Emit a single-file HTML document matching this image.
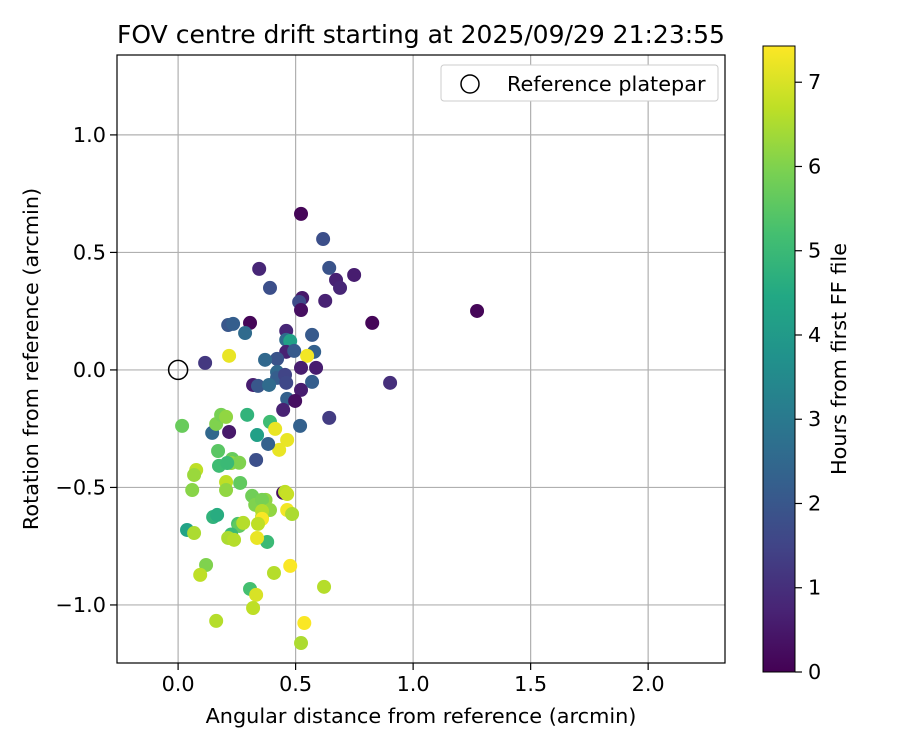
<!DOCTYPE html>
<html><head><meta charset="utf-8"><style>
body{margin:0;background:#fff}
svg{display:block;font-family:"DejaVu Sans","Liberation Sans",sans-serif}
</style></head><body>
<svg id="chart" width="900" height="750">
<defs><linearGradient id="vir" x1="0" y1="1" x2="0" y2="0"></linearGradient></defs>
<rect width="900" height="750" fill="#fff"/>
<g id="grid"></g>
<g id="pts"></g>
<rect x="117" y="55" width="608" height="608" fill="none" stroke="#000" stroke-width="1.2"/>
<g id="axes" font-size="20.8" fill="#000"></g>
<text x="421" y="43" text-anchor="middle" font-size="25">FOV centre drift starting at 2025/09/29 21:23:55</text>
<text x="421" y="723" text-anchor="middle" font-size="20.8">Angular distance from reference (arcmin)</text>
<text transform="translate(38,359) rotate(-90)" text-anchor="middle" font-size="20.8">Rotation from reference (arcmin)</text>
<g>
<rect x="441" y="65" width="277" height="36" rx="3" fill="#fff" stroke="#ccc"/>
<circle cx="470" cy="84" r="9" fill="none" stroke="#000" stroke-width="1.5"/>
<text x="507" y="91" font-size="20.8">Reference platepar</text>
</g>
<rect x="763" y="46" width="32" height="626" fill="url(#vir)" stroke="#000"/>
<g id="cbt" font-size="20.8"></g>
<text transform="translate(846,359) rotate(-90)" text-anchor="middle" font-size="20.8">Hours from first FF file</text>
</svg>
<script>
const xs=[0.523,0.617,0.345,0.643,0.672,0.749,0.689,0.391,0.528,0.515,0.626,0.523,0.826,1.272,0.306,0.213,0.234,0.285,0.46,0.57,0.46,0.477,0.46,0.494,0.579,0.217,0.549,0.421,0.37,0.115,0.523,0.587,0.902,0.319,0.34,0.421,0.421,0.455,0.46,0.387,0.523,0.57,0.464,0.498,0.447,0.643,0.519,0.217,0.145,0.017,0.162,0.183,0.204,0.294,0.336,0.391,0.413,0.464,0.43,0.383,0.332,0.17,0.23,0.174,0.226,0.26,0.209,0.077,0.068,0.06,0.204,0.204,0.264,0.315,0.328,0.372,0.447,0.455,0.464,0.357,0.391,0.357,0.357,0.357,0.464,0.485,0.149,0.166,0.038,0.068,0.255,0.26,0.226,0.213,0.277,0.379,0.336,0.34,0.238,0.119,0.094,0.408,0.477,0.306,0.332,0.319,0.162,0.537,0.523,0.621];
const ys=[0.664,0.557,0.43,0.434,0.383,0.404,0.349,0.349,0.306,0.289,0.294,0.255,0.2,0.251,0.2,0.191,0.196,0.157,0.166,0.149,0.128,0.123,0.077,0.081,0.077,0.06,0.06,0.047,0.043,0.03,0.009,0.009,-0.055,-0.064,-0.068,-0.009,-0.034,-0.021,-0.055,-0.064,-0.085,-0.051,-0.123,-0.132,-0.17,-0.204,-0.238,-0.264,-0.268,-0.238,-0.23,-0.191,-0.2,-0.191,-0.277,-0.221,-0.251,-0.298,-0.34,-0.315,-0.383,-0.345,-0.379,-0.408,-0.396,-0.395,-0.396,-0.426,-0.447,-0.511,-0.477,-0.511,-0.481,-0.536,-0.574,-0.553,-0.523,-0.519,-0.528,-0.553,-0.596,-0.626,-0.6,-0.634,-0.596,-0.613,-0.626,-0.617,-0.681,-0.694,-0.655,-0.664,-0.7,-0.715,-0.651,-0.732,-0.715,-0.655,-0.723,-0.83,-0.872,-0.864,-0.834,-0.932,-0.957,-1.013,-1.068,-1.077,-1.162,-0.923];
const hours=[0.1,1.8,0.8,1.9,0.7,0.6,0.8,1.8,0.5,1.7,0.7,0.3,0.1,0.1,0.1,2.0,2.2,2.6,0.8,2.1,2.6,4.2,0.7,2.1,2.3,7.2,7.3,1.9,2.5,1.2,0.6,0.6,1.0,0.6,2.0,2.5,2.2,1.5,1.6,2.6,0.6,2.2,2.3,0.3,0.7,1.3,2.3,0.5,2.5,5.7,6.0,5.9,6.2,4.8,4.2,5.1,7.2,7.2,7.2,2.3,1.8,5.5,5.7,5.1,6.2,6.0,5.0,6.7,6.3,6.1,6.7,6.2,5.6,5.8,6.0,6.2,0.3,6.7,6.8,5.9,6.2,6.3,6.6,7.4,7.3,6.5,4.8,4.6,4.3,6.5,5.3,5.6,5.0,6.5,6.6,5.0,7.2,6.7,6.6,6.0,6.7,6.6,7.4,5.2,7.0,6.7,6.6,7.4,6.5,6.6];
const xTicks=[0,0.5,1,1.5,2];
const xTickLabels=["0.0","0.5","1.0","1.5","2.0"];
const yTicks=[-1,-0.5,0,0.5,1];
const yTickLabels=["\u22121.0","\u22120.5","0.0","0.5","1.0"];
const cTicks=[0,1,2,3,4,5,6,7];
const X0=117,X1=725,Y0=55,Y1=663,xmin=-0.26,xmax=2.327,ymin=-1.247,ymax=1.34,cmax=7.43;
const sx=v=>X0+(v-xmin)/(xmax-xmin)*(X1-X0);
const sy=v=>Y1-(v-ymin)/(ymax-ymin)*(Y1-Y0);
const sc=v=>672-v/cmax*626;
const V=[[0,[68,1,84]],[.1,[72,36,117]],[.2,[65,68,135]],[.3,[53,95,141]],[.4,[42,120,142]],[.5,[33,145,140]],[.6,[34,168,132]],[.7,[68,191,112]],[.8,[122,209,81]],[.9,[189,223,38]],[1,[253,231,37]]];
function vir(t){t=Math.max(0,Math.min(1,t));for(let i=1;i<V.length;i++){if(t<=V[i][0]){const a=V[i-1],b=V[i],f=(t-a[0])/(b[0]-a[0]);return 'rgb('+a[1].map((c,k)=>Math.round(c+(b[1][k]-c)*f)).join(',')+')';}}}
const NS='http://www.w3.org/2000/svg';
function mk(tag,at,parent,txt){const e=document.createElementNS(NS,tag);for(const k in at)e.setAttribute(k,at[k]);if(txt!==undefined)e.textContent=txt;parent.appendChild(e);return e;}
const grad=document.getElementById('vir');
for(let i=0;i<=10;i++){mk('stop',{offset:i/10,'stop-color':vir(i/10)},grad);}
const grid=document.getElementById('grid'),axes=document.getElementById('axes'),pts=document.getElementById('pts'),cbt=document.getElementById('cbt');
xTicks.forEach((v,i)=>{const x=sx(v);
const g=mk('line',{x1:x,x2:x,y1:Y0,y2:Y1,stroke:'#b0b0b0','stroke-width':1.2},grid);


mk('line',{x1:x,x2:x,y1:Y1,y2:Y1+7,stroke:'#000','stroke-width':1.2},axes);
const t=mk('text',{x:x,y:Y1+28,'text-anchor':'middle'},axes,xTickLabels[i]);

});
yTicks.forEach((v,i)=>{const y=sy(v);
const g=mk('line',{x1:X0,x2:X1,y1:y,y2:y,stroke:'#b0b0b0','stroke-width':1.2},grid);


mk('line',{x1:X0-7,x2:X0,y1:y,y2:y,stroke:'#000','stroke-width':1.2},axes);
const t=mk('text',{x:X0-11,y:y+7,'text-anchor':'end'},axes,yTickLabels[i]);

});
xs.forEach((v,i)=>{const c=mk('circle',{cx:sx(v),cy:sy(ys[i]),r:7,fill:vir(hours[i]/cmax)},pts);

});
const ref=mk('circle',{cx:sx(0),cy:sy(0),r:9.5,fill:'none',stroke:'#000','stroke-width':1.5},pts);


cTicks.forEach(v=>{const y=sc(v);
mk('line',{x1:795,x2:802,y1:y,y2:y,stroke:'#000','stroke-width':1.2},cbt);
const t=mk('text',{x:808,y:y+7},cbt,String(v));

});
</script>
</body></html>
